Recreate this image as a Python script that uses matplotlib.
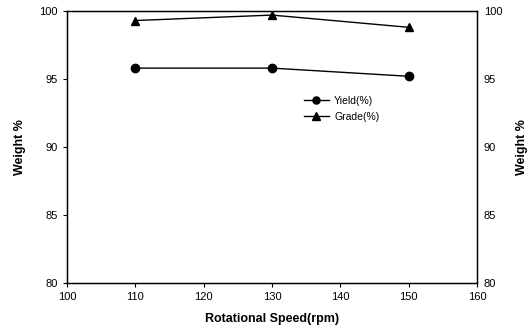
import matplotlib
matplotlib.use("Agg")
import matplotlib.pyplot as plt

speed = [110, 130, 150]
yield_pct = [95.8, 95.8, 95.2]
grade_pct = [99.3, 99.7, 98.8]
xticks = [100, 110, 120, 130, 140, 150, 160]
yticks = [80, 85, 90, 95, 100]

plt.rcParams['font.family'] = ['Liberation Sans', 'DejaVu Sans']

fig = plt.figure(figsize=(5.31, 3.29), dpi=100)
ax = fig.add_axes([67/531, 46/329, 410/531, 272/329])
ax.plot(speed, yield_pct, color='black', lw=1, marker='o', ms=6, label='Yield(%)')
ax.plot(speed, grade_pct, color='black', lw=1, marker='^', ms=6, label='Grade(%)')
ax.set_xlim(100, 160)
ax.set_ylim(80, 100)
ax.set_xticks(xticks)
ax.set_yticks(yticks)
ax.tick_params(axis='both', labelsize=8, length=3, width=0.8, direction='out')
for s in ax.spines.values():
    s.set_linewidth(1)
ax.set_xlabel('Rotational Speed(rpm)', fontsize=9, fontweight='bold', labelpad=8)
ax.set_ylabel('Weight %', fontsize=9, fontweight='bold', labelpad=10)

ax2 = ax.twinx()
ax2.set_ylim(80, 100)
ax2.set_yticks(yticks)
ax2.tick_params(axis='y', labelsize=8, length=0, pad=5)
ax2.set_ylabel('Weight %', fontsize=9, fontweight='bold', labelpad=10)

leg = ax.legend(loc='upper left', bbox_to_anchor=(0.565, 0.708), frameon=False,
                fontsize=7.5, handlelength=2.4, handletextpad=0.5, labelspacing=0.6,
                borderpad=0, markerscale=0.85)
fig.savefig('out.png', dpi=100)
